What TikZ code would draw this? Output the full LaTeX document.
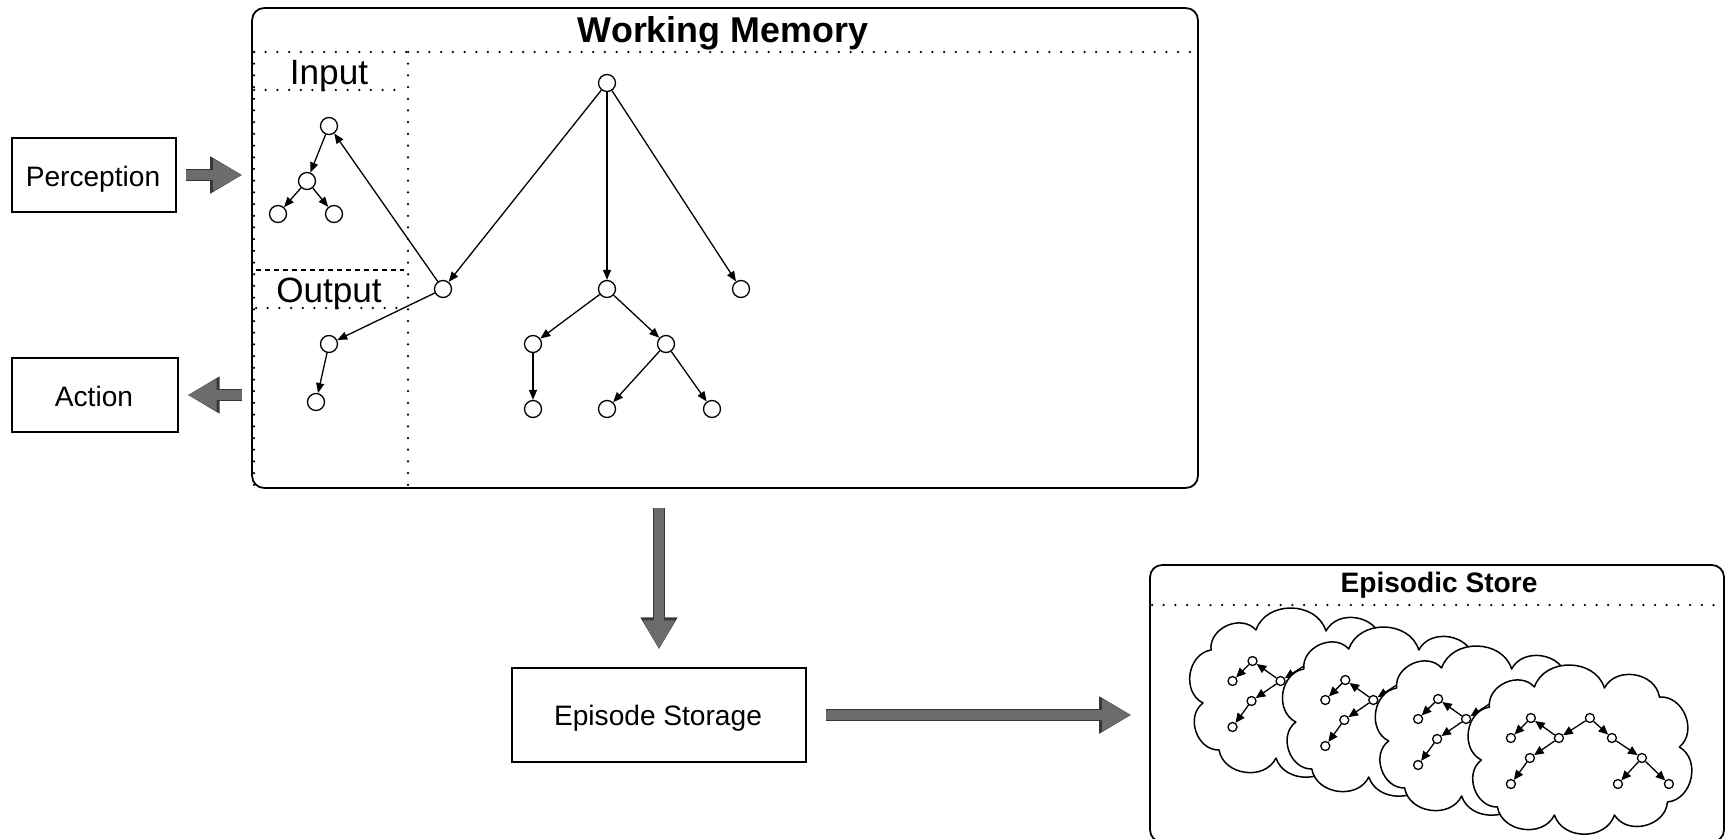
\documentclass[tikz,border=0pt]{standalone}
\usepackage{fontspec}
\setmainfont{Liberation Sans}
\usetikzlibrary{arrows.meta,calc}
\definecolor{arrowfill}{RGB}{108,108,108}
\definecolor{arrowedge}{RGB}{55,55,55}
\begin{document}
\begin{tikzpicture}[x=0.02cm,y=-0.02cm,
  tn/.style={circle,draw,fill=white,line width=0.026cm,minimum size=0.34cm,inner sep=0pt},
  sn/.style={circle,draw,fill=white,line width=0.026cm,minimum size=0.18cm,inner sep=0pt},
  edge/.style={line width=0.026cm,-{Triangle[length=0.2cm,width=0.16cm]}},
  sedge/.style={line width=0.026cm,-{Triangle[length=0.19cm,width=0.17cm]}},
  dotline/.style={line width=0.05cm,line cap=round,dash pattern=on 0pt off 0.234cm},
  dashline/.style={line width=0.03cm,dash pattern=on 0.1cm off 0.08cm},
  box/.style={draw,line width=0.03cm,fill=white,inner sep=0pt},
  lbl/.style={font=\fontsize{16}{19}\selectfont,anchor=base,inner sep=0pt},
  big/.style={font=\fontsize{20}{24}\selectfont,anchor=base,inner sep=0pt},
  title/.style={font=\bfseries\fontsize{20.4}{24}\selectfont,anchor=base,inner sep=0pt},
  subtitle/.style={font=\bfseries\fontsize{16}{19}\selectfont,anchor=base,inner sep=0pt},
  blk/.style={draw=arrowfill,line width=0.2cm,-{Triangle[length=0.58cm,width=0.6cm]},
    preaction={draw=arrowedge,line width=0.25cm,-{Triangle[length=0.64cm,width=0.7cm]}}},
  cloudline/.style={draw,fill=white,line width=0.03cm,line join=round},
  puff/.style={bend left=72,looseness=1.15}
]
\path[use as bounding box] (0,0) rectangle (1726,838);
\clip (0,0) rectangle (1726,838);

% ---------- Working Memory ----------
\node[draw,line width=0.035cm,rounded corners=0.24cm,minimum width=18.92cm,minimum height=9.6cm,inner sep=0pt] (wm) at (725,248) {};
\node[title] (wmtitle) at (723,43) {Working Memory};
\draw[dotline] (254,52) -- (1196,52);
\draw[dotline] (408,52) -- (408,486);
\draw[dotline] (254,52) -- (254,486);
\draw[dotline] (254,90) -- (406,90);
\node[big] (inlbl) at (329,85) {Input};
\draw[dashline] (256,270) -- (404,270);
\draw[dotline] (256,308) -- (404,308);
\node[big] (outlbl) at (329,302) {Output};

% input tree
\node[tn] (ia) at (329,126) {};
\node[tn] (ib) at (307,181) {};
\node[tn] (ic) at (278,214) {};
\node[tn] (id) at (334,214) {};
\draw[edge] (ia) -- (ib);
\draw[edge] (ib) -- (ic);
\draw[edge] (ib) -- (id);

% output tree
\node[tn] (oa) at (329,344) {};
\node[tn] (ob) at (316,402) {};
\draw[edge] (oa) -- (ob);

% main tree
\node[tn] (root) at (607,83) {};
\node[tn] (l) at (443,289) {};
\node[tn] (m) at (607,289) {};
\node[tn] (r) at (741,289) {};
\node[tn] (ml) at (533,344) {};
\node[tn] (mr) at (666,344) {};
\node[tn] (mll) at (533,409) {};
\node[tn] (mrl) at (607,409) {};
\node[tn] (mrr) at (712,409) {};
\draw[edge] (root) -- (l);
\draw[edge] (root) -- (m);
\draw[edge] (root) -- (r);
\draw[edge] (l) -- (ia);
\draw[edge] (l) -- (oa);
\draw[edge] (m) -- (ml);
\draw[edge] (m) -- (mr);
\draw[edge] (ml) -- (mll);
\draw[edge] (mr) -- (mrl);
\draw[edge] (mr) -- (mrr);

% ---------- Perception / Action ----------
\node[box,minimum width=3.28cm,minimum height=1.48cm] (perc) at (94,175) {};
\node[lbl] (perct) at (93,186) {Perception};
\node[box,minimum width=3.32cm,minimum height=1.48cm] (act) at (95,395) {};
\node[lbl] (actt) at (94,406) {Action};
\draw[blk] ($(perc.east)+(9,0)$) -- ($(wm.west |- perc.east)+(-9,0)$);
\draw[blk] ($(wm.west |- act.east)+(-9,0)$) -- ($(act.east)+(9,0)$);

% ---------- Episode Storage ----------
\node[box,minimum width=5.88cm,minimum height=1.88cm] (es) at (659,715) {};
\node[lbl] (est) at (658,725) {Episode Storage};
\draw[blk] ($(wm.south -| es.north)+(0,19)$) -- ($(es.north)+(0,-18)$);

% ---------- Episodic Store ----------
\node[draw,line width=0.035cm,rounded corners=0.24cm,minimum width=11.48cm,minimum height=5.54cm,inner sep=0pt] (store) at (1437,703.5) {};
\node[subtitle] (storet) at (1439,592) {Episodic Store};
\draw[dotline] (1152,605) -- (1722,605);
\draw[blk] ($(es.east)+(19,0)$) -- ($(store.west |- es.east)+(-18,0)$);

\foreach \k in {0,1,2,3} {
  \begin{scope}[shift={(1301+92.8*\k,695+19*\k)}]
    \path[cloudline] (100,-5) to[puff] (88,50) to[puff] (35,63) to[puff] (-25,63)
      to[puff] (-82,55) to[puff] (-98,8) to[puff] (-90,-45) to[puff] (-45,-65)
      to[puff] (25,-64) to[puff] (80,-55) to[puff] (100,-5) -- cycle;
    \node[sn] (t\k-a) at (-48.5,-34) {};
    \node[sn] (t\k-b) at (-68.5,-14) {};
    \node[sn] (t\k-c) at (-20.5,-14) {};
    \node[sn] (t\k-d) at (-49.5,6) {};
    \node[sn] (t\k-e) at (-68.5,32) {};
    \node[sn] (t\k-f) at (10.5,-34) {};
    \node[sn] (t\k-g) at (32.5,-14) {};
    \node[sn] (t\k-h) at (62.5,6) {};
    \node[sn] (t\k-i) at (38.5,32) {};
    \node[sn] (t\k-j) at (89.5,32) {};
    \draw[sedge] (t\k-a) -- (t\k-b);
    \draw[sedge] (t\k-c) -- (t\k-a);
    \draw[sedge] (t\k-c) -- (t\k-d);
    \draw[sedge] (t\k-d) -- (t\k-e);
    \draw[sedge] (t\k-f) -- (t\k-c);
    \draw[sedge] (t\k-f) -- (t\k-g);
    \draw[sedge] (t\k-g) -- (t\k-h);
    \draw[sedge] (t\k-h) -- (t\k-i);
    \draw[sedge] (t\k-h) -- (t\k-j);
  \end{scope}
}
\end{tikzpicture}
\end{document}
